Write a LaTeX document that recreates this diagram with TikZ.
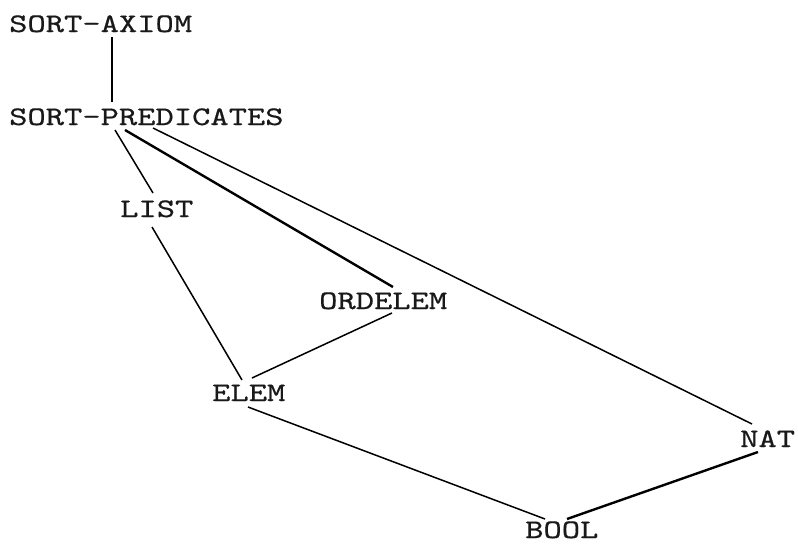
\documentclass[tikz,border=0pt]{standalone}
\usepackage{fontspec}
\setmonofont{lmmono10-regular.otf}[FakeStretch=1.3,FakeBold=0.6]
\usepackage{tikz}
\usetikzlibrary{positioning}

\begin{document}
\begin{tikzpicture}[x=1pt,y=-1pt,
	sortname/.style={anchor=base west,inner sep=0pt,text=black!90,font=\ttfamily\fontsize{26.8}{28}\selectfont},
	link/.style={line width=1.5pt},
	heavy/.style={line width=2.4pt}]
	\useasboundingbox (0,0) rectangle (798,544);
	\node[sortname] at (9,32) (ax) {SORT-AXIOM};
	\node[sortname] at (9,125) (sp) {SORT-PREDICATES};
	\node[sortname] at (120,217) (list) {LIST};
	\node[sortname] at (319,309) (ordelem) {ORDELEM};
	\node[sortname] at (212,401) (elem) {ELEM};
	\node[sortname] at (740,447) (nat) {NAT};
	\node[sortname] at (525,538) (bool) {BOOL};
	% edges of the hierarchy
	\draw[link] ([shift={(103,5)}]ax.base west)--([shift={(103,-23)}]sp.base west);
	\draw[link] ([shift={(106,5)}]sp.base west)--([shift={(33,-24)}]list.base west);
	\draw[link] ([shift={(32,10)}]list.base west)--([shift={(30,-21)}]elem.base west);
	\draw[heavy] ([shift={(116,5)}]sp.base west)--([shift={(74,-22)}]ordelem.base west);
	\draw[link] ([shift={(144,3)}]sp.base west)--([shift={(12,-23)}]nat.base west);
	\draw[link] ([shift={(73,4)}]ordelem.base west)--([shift={(40,-23)}]elem.base west);
	\draw[link] ([shift={(36,6)}]elem.base west)--([shift={(20,-19)}]bool.base west);
	\draw[heavy] ([shift={(18,5)}]nat.base west)--([shift={(42,-19)}]bool.base west);
\end{tikzpicture}
\end{document}
